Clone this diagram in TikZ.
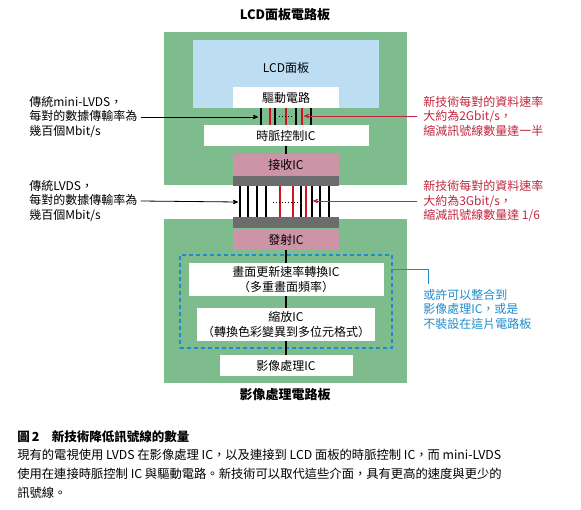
\documentclass[tikz,border=0pt]{standalone}
\usepackage{fontspec}
\setmainfont{Noto Sans CJK TC}
\usetikzlibrary{positioning, arrows}

\definecolor{boardgreen}{RGB}{126,187,141}
\definecolor{panelblue}{RGB}{189,221,243}
\definecolor{icpink}{RGB}{205,147,166}
\definecolor{padgray}{RGB}{108,108,110}
\definecolor{sigred}{RGB}{204,20,30}
\definecolor{notered}{RGB}{192,38,62}
\definecolor{noteblue}{RGB}{30,140,205}

\begin{document}
\begin{tikzpicture}[x=1pt, y=-1pt, >=stealth', semithick,
     every node/.style={font=\fontsize{12}{14.5}\selectfont, inner sep=0pt},
     board/.style={fill=boardgreen, minimum width=243pt},
     icbox/.style={fill=white, align=center},
     chip/.style={fill=icpink, minimum width=106pt, minimum height=21pt},
     pad/.style={fill=padgray, minimum width=106pt},
     note/.style={anchor=west, align=left},
     title/.style={font=\fontsize{13}{15}\selectfont\bfseries},
     bus/.style={line width=1.6pt},
     link/.style={line width=2.4pt},
     pointer/.style={->, line width=0.8pt}]

  \useasboundingbox (0,0) rectangle (581,509);

  % the two boards
  \node[board, minimum height=153pt] (lcdboard) at (285.5,108.5) {};
  \node[board, minimum height=164pt] (imgboard) at (285.5,301) {};
  \node[title] (lcdtitle) at (285,15) {LCD面板電路板};
  \node[title] (imgtitle) at (285,395) {影像處理電路板};

  % LCD side
  \node[fill=panelblue, minimum width=186pt, minimum height=68pt] (panel) at (286,74) {};
  \node (paneltext) at (286,68) {LCD面板};
  \node[icbox, minimum width=106pt, minimum height=21pt] (driver) at (286,97.5) {驅動電路};
  \node[icbox, minimum width=165pt, minimum height=21pt] (tcon) at (286,135.5) {時脈控制IC};
  \node[chip] (rx) at (286,164.5) {接收IC};
  \node[pad, minimum height=10pt, below=0pt of rx] (rxpad) {};

  % image side
  \node[chip] (tx) at (286,239.5) {發射IC};
  \node[pad, minimum height=11pt, above=0pt of tx] (txpad) {};
  \node[draw=noteblue, line width=1.6pt, dash pattern=on 4pt off 3pt,
        minimum width=212pt, minimum height=93pt] (merge) at (286,301.5) {};
  \node[icbox, minimum width=195pt, minimum height=33pt] (frc) at (286,279.5)
       {畫面更新速率轉換IC\\（多重畫面頻率）};
  \node[icbox, minimum width=178pt, minimum height=33pt] (scaler) at (286,324.5)
       {縮放IC\\（轉換色彩變異到多位元格式）};
  \node[icbox, minimum width=133pt, minimum height=21pt] (ipic) at (286,365.5) {影像處理IC};

  \path[link] (tcon) edge (rx) (tx) edge (frc) (frc) edge (scaler) (scaler) edge (ipic);

  % mini-LVDS pairs
  \foreach \x in {261,275,296,311}
    \draw[bus] (driver.south -| \x,0) -- (tcon.north -| \x,0);
  \foreach \x in {270,286,302}
    \draw[bus, sigred] (driver.south -| \x,0) -- (tcon.north -| \x,0);
  \draw[dotted, line width=1pt] (279,116) -- (293,116);

  % LVDS pairs
  \foreach \x in {240,248,257,266,301,312,320,329}
    \draw[bus] (rxpad.south -| \x,0) -- (txpad.north -| \x,0);
  \foreach \x in {280,293,306}
    \draw[bus, sigred] (rxpad.south -| \x,0) -- (txpad.north -| \x,0);
  \draw[dotted, line width=1pt] (273,202) -- (298,202);

  % notes
  \node[note] (mininote) at (29,117) {傳統mini-LVDS，\\每對的數據傳輸率為\\幾百個Mbit/s};
  \node[note, text=notered] (fastnote) at (423,116) {新技術每對的資料速率\\大約為2Gbit/s，\\縮減訊號線數量達一半};
  \node[note] (lvdsnote) at (29,201) {傳統LVDS，\\每對的數據傳輸率為\\幾百個Mbit/s};
  \node[note, text=notered] (fasternote) at (423,201) {新技術每對的資料速率\\大約為3Gbit/s，\\縮減訊號線數量達 1/6};
  \node[note, text=noteblue] (mergenote) at (423,309) {或許可以整合到\\影像處理IC，或是\\不裝設在這片電路板};

  \coordinate (minitip) at (258,117);
  \coordinate (fasttip) at (304,116);
  \coordinate (lvdstip) at (238,202);
  \coordinate (fastertip) at (313,201);
  \draw[pointer] ([xshift=3pt]mininote.east) -- (minitip);
  \draw[pointer, notered] ([xshift=-6pt]fastnote.west) -- (fasttip);
  \draw[pointer] ([xshift=3pt]lvdsnote.east) -- (lvdstip);
  \draw[pointer, notered] ([xshift=-6pt]fasternote.west) -- (fastertip);
  \draw[noteblue, line width=1pt] ([yshift=-15pt]merge.north east)
       -| ([xshift=5pt, yshift=5pt]mergenote.north west);

  % caption
  \node[anchor=west, font=\fontsize{12.5}{15}\selectfont\bfseries] (figtitle) at (17,437)
       {圖\,2\hspace{1em}新技術降低訊號線的數量};
  \node[anchor=north west, align=left, font=\fontsize{12.3}{19}\selectfont] (figtext) at (17,449)
       {現有的電視使用 LVDS 在影像處理 IC，以及連接到 LCD 面板的時脈控制 IC，而 mini-LVDS\\
        使用在連接時脈控制 IC 與驅動電路。新技術可以取代這些介面，具有更高的速度與更少的\\
        訊號線。};
\end{tikzpicture}
\end{document}
